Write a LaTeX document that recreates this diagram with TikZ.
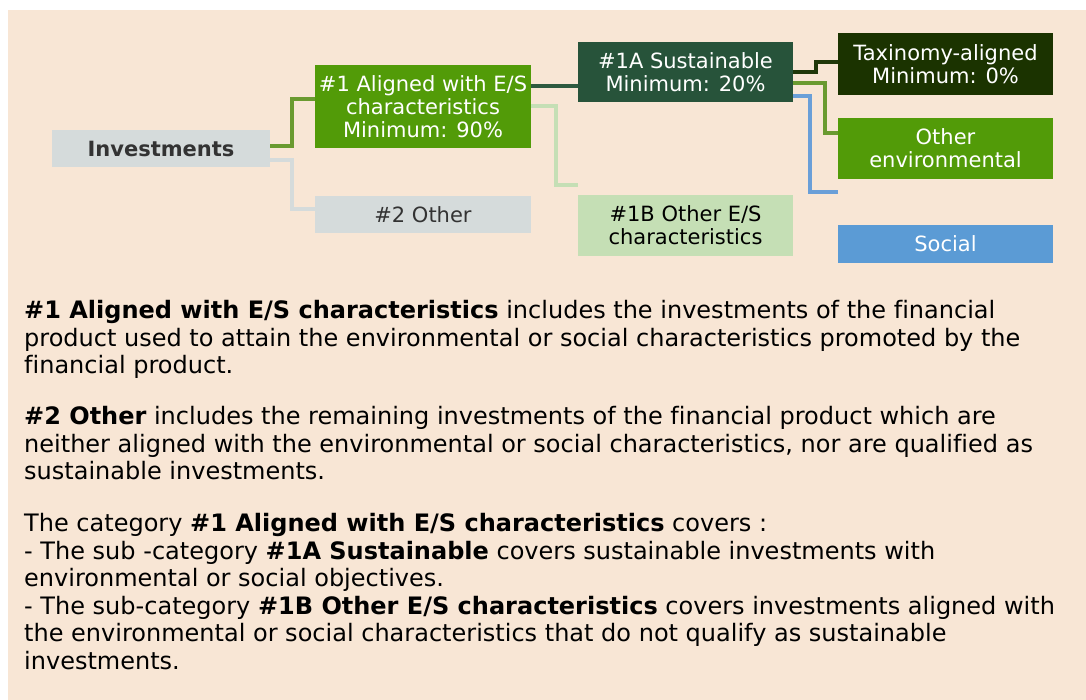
\documentclass[tikz,border=0pt]{standalone}
\usepackage{fontspec}
\setmainfont[Ligatures=NoCommon]{DejaVu Sans}
\definecolor{bgpeach}{HTML}{F8E6D5}
\definecolor{boxgray}{HTML}{D5DBDB}
\definecolor{boxgreen}{HTML}{529B08}
\definecolor{boxdark}{HTML}{27533A}
\definecolor{boxtax}{HTML}{1B3300}
\definecolor{boxlight}{HTML}{C5DFB5}
\definecolor{boxblue}{HTML}{5B9BD5}
\definecolor{lnolive}{HTML}{6A9A30}
\definecolor{lndark}{HTML}{2E5A40}
\definecolor{lntax}{HTML}{20380A}
\definecolor{lnblue}{HTML}{6A9FD8}
\definecolor{txtgray}{HTML}{333333}
\tikzset{
  box/.style={rectangle, inner sep=0pt, minimum width=216pt, align=center,
    font=\fontsize{21}{23}\selectfont},
  conn/.style={line width=4pt, line join=miter},
  para/.style={anchor=north west, inner sep=0pt, align=left,
    font=\fontsize{24}{27.6}\selectfont, text=black}
}
\begin{document}
\begin{tikzpicture}[x=1pt,y=-1pt]
\useasboundingbox (0,0) rectangle (1086,700);
\fill[white] (0,0) rectangle (1086,700);
\fill[bgpeach] (8,10) rectangle (1086,700);

% nodes
\node[box, fill=boxgray, minimum width=218pt, minimum height=37pt, text=txtgray, font=\fontsize{21}{23}\selectfont\bfseries] (inv) at (161,148.5) {Investments};
\node[box, fill=boxgreen, minimum height=83pt, text=white] (a1) at (423,106.5) {\#1 Aligned with E/S\\characteristics\\Minimum: 90\%};
\node[box, fill=boxgray, minimum height=37pt, text=txtgray] (o2) at (423,214.5) {\#2 Other};
\node[box, fill=boxdark, minimum width=215pt, minimum height=60pt, text=white] (s1a) at (685.5,72) {\#1A Sustainable\\Minimum: 20\%};
\node[box, fill=boxlight, minimum width=215pt, minimum height=61pt, text=black] (b1) at (685.5,225.5) {\#1B Other E/S\\characteristics};
\node[box, fill=boxtax, minimum width=215pt, minimum height=62pt, text=white] (tax) at (945.5,64) {Taxinomy-aligned\\Minimum: 0\%};
\node[box, fill=boxgreen, minimum width=215pt, minimum height=61pt, text=white] (env) at (945.5,148.5) {Other\\environmental};
\node[box, fill=boxblue, minimum width=215pt, minimum height=38pt, text=white] (soc) at (945.5,244) {Social};
\coordinate (socend) at ([yshift=52pt]soc.west);

% connectors
\draw[conn, lnolive] ([yshift=2.5pt]inv.east) -- ++(22,0) |- ([yshift=7.5pt]a1.west);
\draw[conn, boxgray] ([yshift=-11.5pt]inv.east) -- ++(22,0) |- ([yshift=5pt]o2.west);
\draw[conn, lndark] ([yshift=20.5pt]a1.east) -- ([yshift=-14pt]s1a.west);
\draw[conn, boxlight] ([yshift=0.5pt]a1.east) -- ++(25,0) |- ([yshift=40.5pt]b1.west);
\draw[conn, lntax] (s1a.east) -- ++(23,0) |- ([yshift=2pt]tax.west);
\draw[conn, lnolive] ([yshift=-11pt]s1a.east) -- ++(32,0) |- ([yshift=15.5pt]env.west);
\draw[conn, lnblue] ([yshift=-24pt]s1a.east) -- ++(17,0) |- (socend);

% text
\node[para] (p1) at (24,300) {\textbf{\#1 Aligned with E/S characteristics} includes the investments of the financial\\product used to attain the environmental or social characteristics promoted by the\\financial product.};
\node[para] (p2) at (24,406) {\textbf{\#2 Other} includes the remaining investments of the financial product which are\\neither aligned with the environmental or social characteristics, nor are qualified as\\sustainable investments.};
\node[para] (p3) at (24,513) {The category \textbf{\#1 Aligned with E/S characteristics} covers :\\- The sub -category \textbf{\#1A Sustainable} covers sustainable investments with\\environmental or social objectives.\\- The sub-category \textbf{\#1B Other E/S characteristics} covers investments aligned with\\the environmental or social characteristics that do not qualify as sustainable\\investments.};
\end{tikzpicture}
\end{document}
